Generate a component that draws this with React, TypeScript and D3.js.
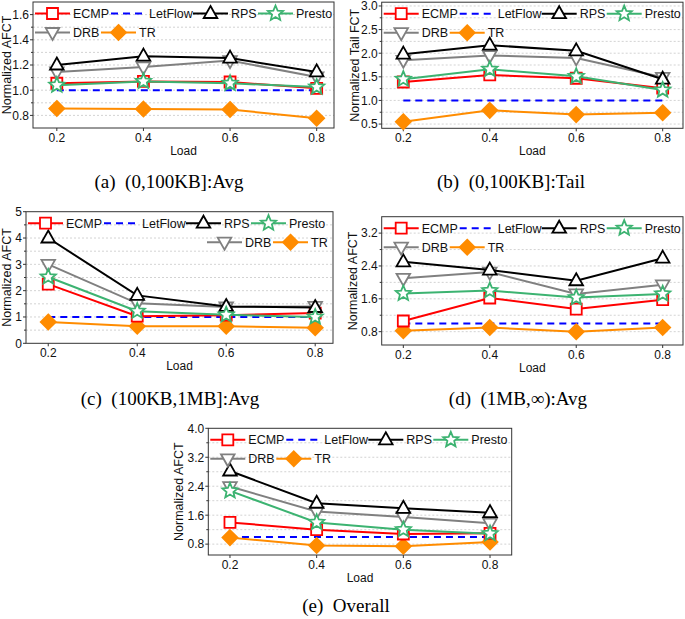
import * as d3 from 'd3'

// loads on the x axis
const loads = [0.2, 0.4, 0.6, 0.8]
const seriesNames = ['ECMP', 'LetFlow', 'RPS', 'Presto', 'DRB', 'TR']

// (a) (0,100KB]:Avg
const aECMP = [1.055, 1.07, 1.065, 1.015]
const aLetFlow = [1.0, 1.0, 1.0, 1.0]
const aRPS = [1.2, 1.27, 1.255, 1.145]
const aPresto = [1.04, 1.07, 1.055, 1.025]
const aDRB = [1.145, 1.185, 1.235, 1.105]
const aTR = [0.855, 0.85, 0.847, 0.777]

// (b) (0,100KB]:Tail
const bECMP = [1.39, 1.54, 1.47, 1.26]
const bLetFlow = [1.0, 1.0, 1.0, 1.0]
const bRPS = [1.98, 2.17, 2.05, 1.45]
const bPresto = [1.45, 1.66, 1.51, 1.22]
const bDRB = [1.85, 1.95, 1.9, 1.49]
const bTR = [0.55, 0.79, 0.7, 0.74]

// (c) (100KB,1MB]:Avg
const cECMP = [2.25, 1.03, 1.07, 1.15]
const cLetFlow = [1.0, 1.0, 1.0, 1.0]
const cRPS = [4.0, 1.82, 1.4, 1.36]
const cPresto = [2.52, 1.22, 1.08, 1.0]
const cDRB = [3.0, 1.52, 1.38, 1.4]
const cTR = [0.81, 0.65, 0.65, 0.59]

// (d) (1MB,inf):Avg
const dECMP = [1.06, 1.62, 1.35, 1.58]
const dLetFlow = [1.0, 1.0, 1.0, 1.0]
const dRPS = [2.5, 2.3, 2.04, 2.59]
const dPresto = [1.73, 1.8, 1.63, 1.72]
const dDRB = [2.1, 2.25, 1.72, 1.94]
const dTR = [0.82, 0.9, 0.8, 0.9]

// (e) Overall
const eECMP = [1.4, 1.2, 1.08, 1.1]
const eLetFlow = [1.0, 1.0, 1.0, 1.0]
const eRPS = [2.82, 1.93, 1.79, 1.67]
const ePresto = [2.27, 1.4, 1.2, 1.09]
const eDRB = [2.39, 1.7, 1.55, 1.38]
const eTR = [0.98, 0.76, 0.74, 0.86]

const styles: Record<string, { color: string; dash?: string; marker?: string }> = {
  ECMP: { color: '#ff0000', marker: 'square' },
  LetFlow: { color: '#0000ff', dash: '7,5' },
  RPS: { color: '#000000', marker: 'triUp' },
  Presto: { color: '#3cb371', marker: 'star' },
  DRB: { color: '#808080', marker: 'triDown' },
  TR: { color: '#ff8c00', marker: 'diamond' },
}
const drawOrder = ['LetFlow', 'TR', 'ECMP', 'DRB', 'RPS', 'Presto']

const starPath = (ro: number, ri: number) => {
  const pts: string[] = []
  for (let i = 0; i < 10; i++) {
    const r = i % 2 === 0 ? ro : ri
    const a = (Math.PI / 5) * i - Math.PI / 2
    pts.push(`${(r * Math.cos(a)).toFixed(2)},${(r * Math.sin(a)).toFixed(2)}`)
  }
  return 'M' + pts.join('L') + 'Z'
}

const markerPaths: Record<string, string> = {
  square: 'M-5.5,-5.5h11v11h-11Z',
  triUp: 'M0,-7.5L6.8,4.5L-6.8,4.5Z',
  triDown: 'M0,7.5L6.8,-4.5L-6.8,-4.5Z',
  star: starPath(8, 3.6),
  diamond: 'M0,-7.5L7.5,0L0,7.5L-7.5,0Z',
}

const Marker = ({ name, x, y }: { name: string; x: number; y: number }) => {
  const s = styles[name]
  if (!s.marker) return null
  const filled = s.marker === 'diamond'
  return (
    <path
      d={markerPaths[s.marker]}
      transform={`translate(${x},${y})`}
      fill={filled ? s.color : '#fff'}
      stroke={s.color}
      strokeWidth={1.8}
      strokeLinejoin="miter"
    />
  )
}

interface PanelDef {
  x0: number
  x1: number
  top: number
  bottom: number
  xDomain: [number, number]
  yDomain: [number, number]
  yTicks: number[]
  yMinor: number[]
  fmt: string
  yLabel: string
  yLabX: number
  caption: string
  capX: number
  capY: number
  values: number[][]
  row2?: number[]
}

const panels: PanelDef[] = [
  {
    x0: 33, x1: 334, top: 2, bottom: 128, xDomain: [0.145, 0.84], yDomain: [0.7, 1.7],
    yTicks: [0.8, 1.0, 1.2, 1.4, 1.6], yMinor: [0.9, 1.1, 1.3, 1.5], fmt: '.1f',
    yLabel: 'Normalized AFCT', yLabX: 11, caption: '(a)  (0,100KB]:Avg', capX: 169, capY: 188,
    values: [aECMP, aLetFlow, aRPS, aPresto, aDRB, aTR],
  },
  {
    x0: 381.7, x1: 683, top: 2.2, bottom: 128.3, xDomain: [0.15, 0.847], yDomain: [0.41, 3.08],
    yTicks: [0.5, 1.0, 1.5, 2.0, 2.5, 3.0], yMinor: [0.75, 1.25, 1.75, 2.25, 2.75], fmt: '.1f',
    yLabel: 'Normalized Tail FCT', yLabX: 359, caption: '(b)  (0,100KB]:Tail', capX: 511, capY: 188,
    values: [bECMP, bLetFlow, bRPS, bPresto, bDRB, bTR],
  },
  {
    x0: 26, x1: 333, top: 211.7, bottom: 343.3, xDomain: [0.15, 0.84], yDomain: [0, 5],
    yTicks: [0, 1, 2, 3, 4, 5], yMinor: [0.5, 1.5, 2.5, 3.5, 4.5], fmt: 'd',
    yLabel: 'Normalized AFCT', yLabX: 11, caption: '(c)  (100KB,1MB]:Avg', capX: 170, capY: 405,
    values: [cECMP, cLetFlow, cRPS, cPresto, cDRB, cTR], row2: [181, 247],
  },
  {
    x0: 381.7, x1: 683, top: 216.7, bottom: 345, xDomain: [0.15, 0.847], yDomain: [0.475, 3.6],
    yTicks: [0.8, 1.6, 2.4, 3.2], yMinor: [1.2, 2.0, 2.8], fmt: '.1f',
    yLabel: 'Normalized AFCT', yLabX: 357, caption: '(d)  (1MB,∞):Avg', capX: 518, capY: 405,
    values: [dECMP, dLetFlow, dRPS, dPresto, dDRB, dTR],
  },
  {
    x0: 208.3, x1: 511.7, top: 428.3, bottom: 555, xDomain: [0.15, 0.85], yDomain: [0.5, 4.0],
    yTicks: [0.8, 1.6, 2.4, 3.2, 4.0], yMinor: [1.2, 2.0, 2.8, 3.6], fmt: '.1f',
    yLabel: 'Normalized AFCT', yLabX: 183, caption: '(e)  Overall', capX: 346, capY: 612,
    values: [eECMP, eLetFlow, eRPS, ePresto, eDRB, eTR],
  },
]

const row1Offsets = [2, 78, 160, 225]
const row2Default = [2, 68]

const sans = 'Liberation Sans, Arial, sans-serif'

const Panel = ({ p }: { p: PanelDef }) => {
  const x = d3.scaleLinear().domain(p.xDomain).range([p.x0, p.x1])
  const y = d3.scaleLinear().domain(p.yDomain).range([p.bottom, p.top])
  const fmt = d3.format(p.fmt)
  const line = d3
    .line<number>()
    .x((_, i) => x(loads[i]))
    .y(d => y(d))

  const legendItem = (name: string, lx: number, ly: number) => {
    const s = styles[name]
    return (
      <g key={name}>
        <line x1={lx} x2={lx + 35} y1={ly} y2={ly} stroke={s.color} strokeWidth={2} strokeDasharray={s.dash} />
        <Marker name={name} x={lx + 17.5} y={ly} />
        <text x={lx + 38} y={ly} dy="0.36em" fontSize={12.5} fontFamily={sans} fill="#111">
          {name}
        </text>
      </g>
    )
  }
  const r2 = p.row2 ?? row2Default

  return (
    <g>
      {/* grid */}
      {[...p.yTicks, ...p.yMinor]
        .filter(t => y(t) > p.top + 0.5 && y(t) < p.bottom - 0.5)
        .map(t => (
          <line key={'g' + t} x1={p.x0} x2={p.x1} y1={y(t)} y2={y(t)} stroke="#c8c8c8" strokeWidth={0.8} strokeDasharray="2,2" />
        ))}
      {/* frame */}
      <rect x={p.x0} y={p.top} width={p.x1 - p.x0} height={p.bottom - p.top} fill="none" stroke="#333" strokeWidth={1} />
      {/* y ticks */}
      {p.yTicks.map(t => (
        <g key={'y' + t}>
          <line x1={p.x0 - 3} x2={p.x0} y1={y(t)} y2={y(t)} stroke="#333" />
          <text x={p.x0 - 4} y={y(t)} dy="0.36em" textAnchor="end" fontSize={12} fontFamily={sans} fill="#111">
            {fmt(t)}
          </text>
        </g>
      ))}
      {p.yMinor.map(t => (
        <line key={'ym' + t} x1={p.x0 - 2} x2={p.x0} y1={y(t)} y2={y(t)} stroke="#333" />
      ))}
      {/* x ticks */}
      {loads.map(t => (
        <g key={'x' + t}>
          <line x1={x(t)} x2={x(t)} y1={p.bottom} y2={p.bottom + 3} stroke="#333" />
          <text x={x(t)} y={p.bottom + 13.5} textAnchor="middle" fontSize={12} fontFamily={sans} fill="#111">
            {t.toFixed(1)}
          </text>
        </g>
      ))}
      <text x={(p.x0 + p.x1) / 2} y={p.bottom + 26.5} textAnchor="middle" fontSize={12} fontFamily={sans} fill="#111">
        Load
      </text>
      <text
        transform={`translate(${p.yLabX},${(p.top + p.bottom) / 2}) rotate(-90)`}
        textAnchor="middle"
        fontSize={12.5}
        fontFamily={sans}
        fill="#111"
      >
        {p.yLabel}
      </text>
      {/* series */}
      {drawOrder.map(name => {
        const vals = p.values[seriesNames.indexOf(name)]
        const s = styles[name]
        return (
          <g key={name}>
            <path d={line(vals) ?? ''} fill="none" stroke={s.color} strokeWidth={2} strokeDasharray={s.dash} />
            {vals.map((v, i) => (
              <Marker key={i} name={name} x={x(loads[i])} y={y(v)} />
            ))}
          </g>
        )
      })}
      {/* legend */}
      {seriesNames.slice(0, 4).map((n, i) => legendItem(n, p.x0 + row1Offsets[i], p.top + 11.5))}
      {seriesNames.slice(4).map((n, i) => legendItem(n, p.x0 + r2[i], p.top + 30.5))}
      {/* caption */}
      <text x={p.capX} y={p.capY} textAnchor="middle" fontSize={19} fontFamily="Liberation Serif, serif" fill="#000" style={{ whiteSpace: 'pre' }}>
        {p.caption}
      </text>
    </g>
  )
}

export default function App() {
  return (
    <svg width={685} height={619} style={{ position: 'absolute', left: 0, top: 0, background: '#fff' }}>
      {panels.map((p, i) => (
        <Panel key={i} p={p} />
      ))}
    </svg>
  )
}
